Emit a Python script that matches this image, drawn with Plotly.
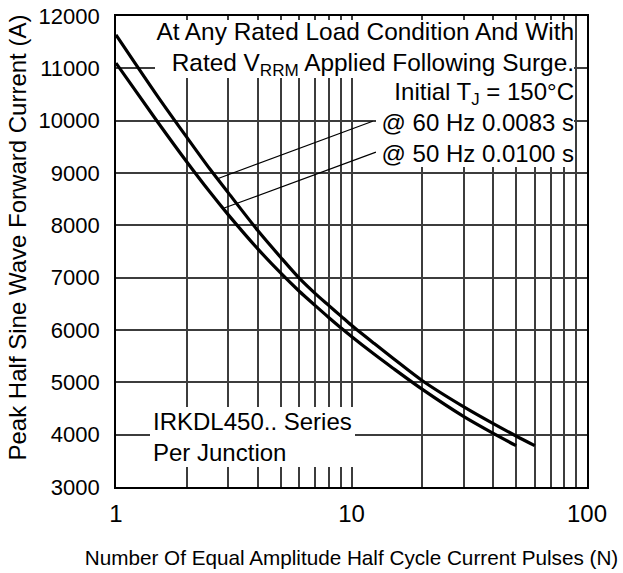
import plotly.graph_objects as go

# ---- data ----
n_60hz = [1, 1.5, 2, 2.5, 3, 4, 5, 6, 7, 8, 9, 10, 12.5, 15, 20, 30, 40, 50, 60]
i_60hz = [11640, 10470, 9680, 9080, 8620, 7900, 7390, 6990, 6700, 6470, 6270,
          6090, 5740, 5460, 5030, 4530, 4210, 3975, 3790]

n_50hz = [1, 1.5, 2, 2.5, 3, 4, 5, 6, 7, 8, 9, 10, 12.5, 15, 20, 30, 40, 50]
i_50hz = [11100, 9980, 9210, 8640, 8200, 7550, 7090, 6740, 6470, 6240, 6045,
          5875, 5535, 5270, 4865, 4345, 4025, 3790]

# leader lines from labels to curves
lead60_n = [2.68, 12.3]
lead60_i = [8885, 9990]
lead50_n = [2.88, 12.7]
lead50_i = [8330, 9400]

x_ticks = [1, 10, 100]
x_ticktext = ["1", "10", "100"]
x_minor = [2, 3, 4, 5, 6, 7, 8, 9, 20, 30, 40, 50, 60, 70, 80, 90]
y_ticks = [3000, 4000, 5000, 6000, 7000, 8000, 9000, 10000, 11000, 12000]
y_ticktext = [str(v) for v in y_ticks]

note_top = "At Any Rated Load Condition And With<br>Rated V<sub>RRM</sub> Applied Following Surge."
note_right = "Initial T<sub>J</sub> = 150°C<br>@ 60 Hz 0.0083 s<br>@ 50 Hz 0.0100 s"
note_bottom = "IRKDL450.. Series<br>Per Junction"

FONT = "Arial, Liberation Sans, sans-serif"

fig = go.Figure()
for xs, ys in [(n_60hz, i_60hz), (n_50hz, i_50hz)]:
    fig.add_trace(go.Scatter(x=xs, y=ys, mode="lines",
                             line=dict(color="black", width=3.2, shape="spline", smoothing=0.8),
                             showlegend=False, hoverinfo="skip"))
for xs, ys in [(lead60_n, lead60_i), (lead50_n, lead50_i)]:
    fig.add_trace(go.Scatter(x=xs, y=ys, mode="lines",
                             line=dict(color="black", width=1.2),
                             showlegend=False, hoverinfo="skip"))

# plot area in pixels: left 116, right 587, top 16, bottom 487
L, R, T, B = 116, 587, 16, 487
W, H = R - L, B - T


def px(x):
    return (x - L) / W


def py(y):
    return (B - y) / H


# text blocks on white boxes that hide the gridlines behind them
blocks = [
    (note_top, 155, 574, 20, 78, "right", 0, 24.4),
    (note_right, 376, 574, 78, 167, "right", 0, 24),
    (note_bottom, 150, 355, 407, 467, "left", 3, 24),
]
for txt, x0, x1, y0, y1, al, pad, fs in blocks:
    fig.add_annotation(text=txt, xref="paper", yref="paper", x=px(x0), y=py(y0),
                       xanchor="left", yanchor="top", width=x1 - x0 - 2 * pad,
                       height=y1 - y0 - 2 * pad, align=al, valign="middle",
                       bgcolor="white", borderpad=pad, borderwidth=0, showarrow=False,
                       font=dict(family=FONT, size=fs, color="black"))

# y-axis title
fig.add_annotation(text="Peak Half Sine Wave Forward Current (A)", xref="paper", yref="paper",
                   x=px(17), y=py(237.5), xanchor="center", yanchor="middle",
                   textangle=-90, showarrow=False, font=dict(family=FONT, size=24, color="black"))

grid_col = "#3c3c3c"
fig.update_xaxes(type="log", range=[0, 2], tickmode="array", tickvals=x_ticks,
                 ticktext=x_ticktext, showgrid=True, gridcolor=grid_col, gridwidth=1.6,
                 minor=dict(tickmode="array", tickvals=x_minor, showgrid=True,
                            gridcolor=grid_col, gridwidth=1.6, ticks=""),
                 showline=True, linecolor="black", linewidth=1.6, mirror=True,
                 ticks="", ticklabelstandoff=4, zeroline=False, automargin=False,
                 tickfont=dict(family=FONT, size=24, color="black"),
                 title=dict(text="Number Of Equal Amplitude Half Cycle Current Pulses (N)",
                            font=dict(family=FONT, size=20.7, color="black"), standoff=25))
fig.update_yaxes(range=[3000, 12000], tickmode="array", tickvals=y_ticks, ticktext=y_ticktext,
                 showgrid=True, gridcolor=grid_col, gridwidth=1.6,
                 showline=True, linecolor="black", linewidth=1.6, mirror=True,
                 ticks="", ticklabelstandoff=10, zeroline=False, automargin=False,
                 tickfont=dict(family=FONT, size=22, color="black"))

fig.update_layout(width=623, height=573, margin=dict(l=L, r=623 - R, t=T, b=573 - B),
                  paper_bgcolor="white", plot_bgcolor="white", showlegend=False)

fig.write_html("out.html", config={"displayModeBar": False},
               post_script="document.body.style.margin='0';")
